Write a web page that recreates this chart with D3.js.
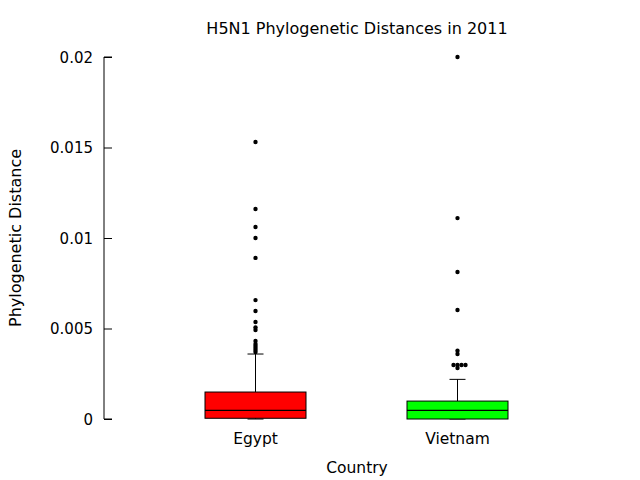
<!DOCTYPE html>
<html>
<head>
<meta charset="utf-8">
<script src="https://cdn.jsdelivr.net/npm/d3@7"></script>
<style>
  body { margin: 0; background: #fff; }
  text { font-family: 'DejaVu Sans', sans-serif; fill: #000; }
</style>
</head>
<body>
<svg id="svg"></svg>
<script>
const categories = ['Egypt', 'Vietnam'];
const categoryPos = [1, 2];
const boxColors = ['#ff0000', '#00ff00'];
const whiskerLow = [0, 0];
const q1 = [0.00004, 0];
const medians = [0.00048, 0.00048];
const q3 = [0.00149, 0.00099];
const whiskerHigh = [0.00359, 0.00219];
const egyptOutliers = [0.0153, 0.0116, 0.01061, 0.01, 0.0089, 0.00657, 0.00597,
  0.00536, 0.00506, 0.00492, 0.00431, 0.00414, 0.00403, 0.00392, 0.00381, 0.0037];
const vietnamOutliers = [0.02, 0.0111, 0.00812, 0.00602, 0.00377, 0.00359,
  0.00298, 0.00298, 0.00298, 0.00298, 0.00282];
const yTicks = [0, 0.005, 0.01, 0.015, 0.02];

const width = 640,
  height = 480;

const svg = d3.select('#svg').attr('width', width).attr('height', height);

const xScale = d3.scaleLinear().domain([0.25, 2.75]).range([104, 609]);
const yScale = d3.scaleLinear().domain([0, 0.02]).range([419, 57]);

// y axis, ticks pointing inward
const yAxis = d3
  .axisRight(yScale)
  .tickValues(yTicks)
  .tickSize(8)
  .tickFormat((d) => d3.format('~g')(+d.toFixed(4)));

const gy = svg
  .append('g')
  .attr('transform', `translate(${xScale(0.25)},0)`)
  .call(yAxis);
gy.select('.domain').attr('stroke', '#000').attr('d', `M8,57H0V419H8`);
gy.selectAll('.tick line').attr('stroke', '#000');
gy.selectAll('.tick text')
  .attr('x', -11)
  .attr('text-anchor', 'end')
  .attr('dy', '0.35em')
  .style('font-size', '15px')
  .style('font-family', "'DejaVu Sans', sans-serif");

const half = 0.25;
const capHalf = 8;

categories.forEach((c, i) => {
  const cx = xScale(categoryPos[i]);
  const g = svg.append('g');

  // whiskers
  g.append('line')
    .attr('x1', cx).attr('x2', cx)
    .attr('y1', yScale(q3[i])).attr('y2', yScale(whiskerHigh[i]))
    .attr('stroke', '#000');
  g.append('line')
    .attr('x1', cx).attr('x2', cx)
    .attr('y1', yScale(q1[i])).attr('y2', yScale(whiskerLow[i]))
    .attr('stroke', '#000');
  [whiskerHigh[i], whiskerLow[i]].forEach((v) => {
    g.append('line')
      .attr('x1', cx - capHalf).attr('x2', cx + capHalf)
      .attr('y1', yScale(v)).attr('y2', yScale(v))
      .attr('stroke', '#000');
  });

  // box
  g.append('rect')
    .attr('x', xScale(categoryPos[i] - half))
    .attr('y', yScale(q3[i]))
    .attr('width', xScale(categoryPos[i] + half) - xScale(categoryPos[i] - half))
    .attr('height', yScale(q1[i]) - yScale(q3[i]))
    .attr('fill', boxColors[i])
    .attr('stroke', '#000');
  g.append('line')
    .attr('x1', xScale(categoryPos[i] - half)).attr('x2', xScale(categoryPos[i] + half))
    .attr('y1', yScale(medians[i])).attr('y2', yScale(medians[i]))
    .attr('stroke', '#000')
    .attr('stroke-width', 1.2);

  // outliers, jittered when equal
  const outs = i === 0 ? egyptOutliers : vietnamOutliers;
  const seen = new Map();
  const order = [0, 1, -1, 2, -2, 3, -3];
  outs.forEach((v) => {
    const k = seen.get(v) || 0;
    seen.set(v, k + 1);
    g.append('circle')
      .attr('cx', cx + order[k] * 4)
      .attr('cy', yScale(v))
      .attr('r', 2.2)
      .attr('fill', '#000');
  });

  svg.append('text')
    .attr('x', cx)
    .attr('y', 444)
    .attr('text-anchor', 'middle')
    .style('font-size', '15.5px')
    .text(c);
});

svg.append('text')
  .attr('x', 357)
  .attr('y', 34)
  .attr('text-anchor', 'middle')
  .style('font-size', '16px')
  .text('H5N1 Phylogenetic Distances in 2011');

svg.append('text')
  .attr('x', 357)
  .attr('y', 473)
  .attr('text-anchor', 'middle')
  .style('font-size', '15.5px')
  .text('Country');

svg.append('text')
  .attr('transform', 'translate(21,238) rotate(-90)')
  .attr('text-anchor', 'middle')
  .style('font-size', '16px')
  .text('Phylogenetic Distance');
</script>
</body>
</html>
